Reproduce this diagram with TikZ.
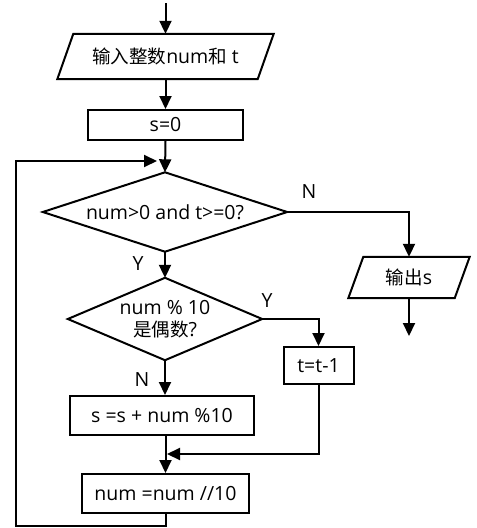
\documentclass[tikz,border=0pt]{standalone}
\usepackage{fontspec}
\setmainfont{Open Sans}
\newfontfamily\cjk[Scale=0.95]{Noto Sans CJK SC}
\usetikzlibrary{arrows.meta}
\begin{document}
\begin{tikzpicture}[x=1pt,y=-1pt,
  every node/.style={font=\fontsize{19.5}{23}\selectfont},
  line/.style={line width=2pt},
  arr/.style={line width=2pt,-{Triangle[length=13pt,width=12pt]}},
  box/.style={draw,line width=2pt,inner sep=0pt},
  hidden/.style={inner sep=0pt},
  lbl/.style={inner sep=0pt}]
\useasboundingbox (0,0) rectangle (477,528);
% nodes
\node[hidden,minimum width=200pt,minimum height=45pt] (in) at (165.5,56.5) {{\cjk 输入整数}num{\cjk 和} t};
\node[box,minimum width=155pt,minimum height=30pt] (s0) at (165.5,125) {s=0};
\node[hidden,minimum width=244pt,minimum height=79pt] (d1) at (165,212) {num>0 and t>=0?};
\node[hidden,minimum width=106pt,minimum height=41pt] (out) at (409,277.5) {{\cjk 输出}s};
\node[hidden,minimum width=194pt,minimum height=82pt,align=center] (d2) at (165,319) {num \% 10\\[-1pt]{\cjk 是偶数}?};
\node[box,minimum width=70pt,minimum height=37pt] (tt) at (318.5,365.5) {t=t-1};
\node[box,minimum width=184pt,minimum height=39pt] (s2) at (162,415.5) {s =s + num \%10};
\node[box,minimum width=167pt,minimum height=39pt] (n3) at (165.5,493.5) {num =num //10};
% shapes
\draw[line,line join=miter] ([xshift=8pt]in.north west) -- ([xshift=8pt]in.north east) -- ([xshift=-8pt]in.south east) -- ([xshift=-8pt]in.south west) -- cycle;
\draw[line,line join=miter] ([xshift=7.5pt]out.north west) -- ([xshift=7.5pt]out.north east) -- ([xshift=-7.5pt]out.south east) -- ([xshift=-7.5pt]out.south west) -- cycle;
\draw[line,line join=miter] (d1.north) -- (d1.east) -- (d1.south) -- (d1.west) -- cycle;
\draw[line,line join=miter] (d2.north) -- (d2.east) -- (d2.south) -- (d2.west) -- cycle;
% coordinates
\coordinate (start) at (165.5,3);
\coordinate (end) at (409,336);
\coordinate (lb) at (16,526);
\coordinate (lt) at (16,161);
\coordinate (tip) at (157,161);
\coordinate (join) at (167,454);
% connectors
\draw[arr] (start) -- (in.north);
\draw[arr] (in.south) -- (s0.north);
\draw[arr] (s0.south) -- (d1.north);
\draw[arr] (d1.south) -- (d2.north);
\draw[arr] (d1.east) -| (out.north);
\draw[arr] (out.south) -- (end);
\draw[arr] (d2.east) -| (tt.north);
\draw[arr] (d2.south) -- (d2.south |- s2.north);
\draw[arr] (s2.south -| n3.north) -- (n3.north);
\draw[arr] (tt.south) |- (join);
\draw[arr] (n3.south) |- (lb) -- (lt) -- (tip);
% labels
\node[lbl] (lN1) at (309,192) {N};
\node[lbl] (lY1) at (138,264) {Y};
\node[lbl] (lY2) at (267,301) {Y};
\node[lbl] (lN2) at (142,380) {N};
\end{tikzpicture}
\end{document}
